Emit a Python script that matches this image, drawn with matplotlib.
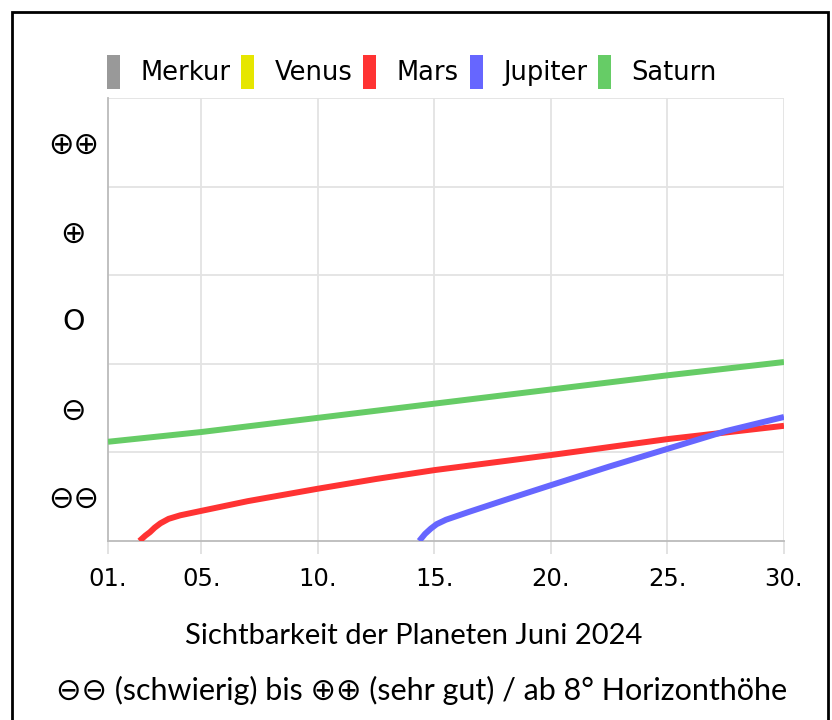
import matplotlib
matplotlib.use('Agg')
import matplotlib.pyplot as plt
from matplotlib.patches import Patch, Rectangle

# Sichtbarkeit der Planeten, Juni 2024 (Werte 0..5 = Bänder ⊖⊖ .. ⊕⊕)
planeten = ['Merkur', 'Venus', 'Mars', 'Jupiter', 'Saturn']
farben = ['#999999', '#e6e600', '#ff3333', '#6666ff', '#66cc66']

mars_tage = [2.35, 2.6, 2.8, 3.0, 3.25, 3.6, 4.1, 5, 7, 10, 12.5, 15, 20, 25, 30]
mars_werte = [0.0, 0.06, 0.10, 0.15, 0.20, 0.25, 0.29, 0.34, 0.45, 0.59, 0.70, 0.80, 0.97, 1.15, 1.30]

jupiter_tage = [14.35, 14.6, 14.85, 15.1, 15.5, 16.5, 18, 20, 22.5, 25, 27.5, 30]
jupiter_werte = [0.0, 0.08, 0.14, 0.19, 0.24, 0.33, 0.46, 0.63, 0.84, 1.04, 1.24, 1.40]

saturn_tage = [1, 5, 10, 15, 20, 25, 30]
saturn_werte = [1.12, 1.23, 1.39, 1.55, 1.71, 1.87, 2.02]

x_ticks = [1, 5, 10, 15, 20, 25, 30]
x_labels = ['01.', '05.', '10.', '15.', '20.', '25.', '30.']
y_ticks = [0.5, 1.5, 2.5, 3.5, 4.5]
y_labels = ['⊖⊖', '⊖', 'O', '⊕', '⊕⊕']

fig = plt.figure(figsize=(8.32, 7.2), dpi=100)
ax = fig.add_axes([108 / 832, 1 - 541 / 720, 676 / 832, 443 / 720])

lw = 4.3
ax.plot(saturn_tage, saturn_werte, color=farben[4], lw=lw, solid_capstyle='butt', zorder=3)
ax.plot(mars_tage, mars_werte, color=farben[2], lw=lw, solid_capstyle='butt', zorder=4)
ax.plot(jupiter_tage, jupiter_werte, color=farben[3], lw=lw, solid_capstyle='butt', zorder=5)

ax.set_xlim(1, 30)
ax.set_ylim(0, 5)

ax.set_xticks(x_ticks)
ax.set_xticklabels(x_labels, fontsize=17.5, family='DejaVu Sans')
ax.tick_params(axis='x', length=9, color='#dddddd', width=1.2, pad=10)
ax.set_yticks(y_ticks)
ax.set_yticklabels(y_labels, family='DejaVu Sans', ha='center')
for lab in ax.get_yticklabels():
    # die Kreissymbole sind in der Vorlage größer als das "O"
    lab.set_fontsize(20.5 if lab.get_text() == 'O' else 22)
ax.tick_params(axis='y', length=0, pad=25)

# horizontale Gitterlinien auf ganzen Werten, vertikale an den Ticks
for yv in range(1, 6):
    ax.axhline(yv, color='#e3e3e3', lw=1.3, zorder=1)
for xv in x_ticks[1:]:
    ax.axvline(xv, color='#e3e3e3', lw=1.3, zorder=1)

for s in ['top', 'right']:
    ax.spines[s].set_visible(False)
for s in ['left', 'bottom']:
    ax.spines[s].set_color('#bbbbbb')
    ax.spines[s].set_linewidth(1.3)

handles = [Patch(facecolor=c, edgecolor='none', label=n) for n, c in zip(planeten, farben)]
fig.legend(handles=handles, loc='center', bbox_to_anchor=(412 / 832, 1 - 72 / 720),
           ncol=5, frameon=False, prop={'family': 'DejaVu Sans', 'size': 18.5},
           handlelength=0.5, handleheight=1.7, handletextpad=0.8, columnspacing=0.42,
           borderpad=0, borderaxespad=0)

cap_font = ['Lato', 'DejaVu Sans']
fig.text(414 / 832, 1 - 636 / 720, 'Sichtbarkeit der Planeten Juni 2024',
         ha='center', va='center', fontsize=21, family=cap_font)
fig.text(422 / 832, 1 - 690 / 720, '⊖⊖ (schwierig) bis ⊕⊕ (sehr gut) / ab 8° Horizonthöhe',
         ha='center', va='center', fontsize=22, family=cap_font)

# schwarzer Rahmen (unten offen)
fig.patches.append(Rectangle((12 / 832, -0.05), 816 / 832, 1.05 - 12 / 720,
                             transform=fig.transFigure, fill=False,
                             edgecolor='black', lw=2))

fig.savefig('out.png', dpi=100, facecolor='white')
